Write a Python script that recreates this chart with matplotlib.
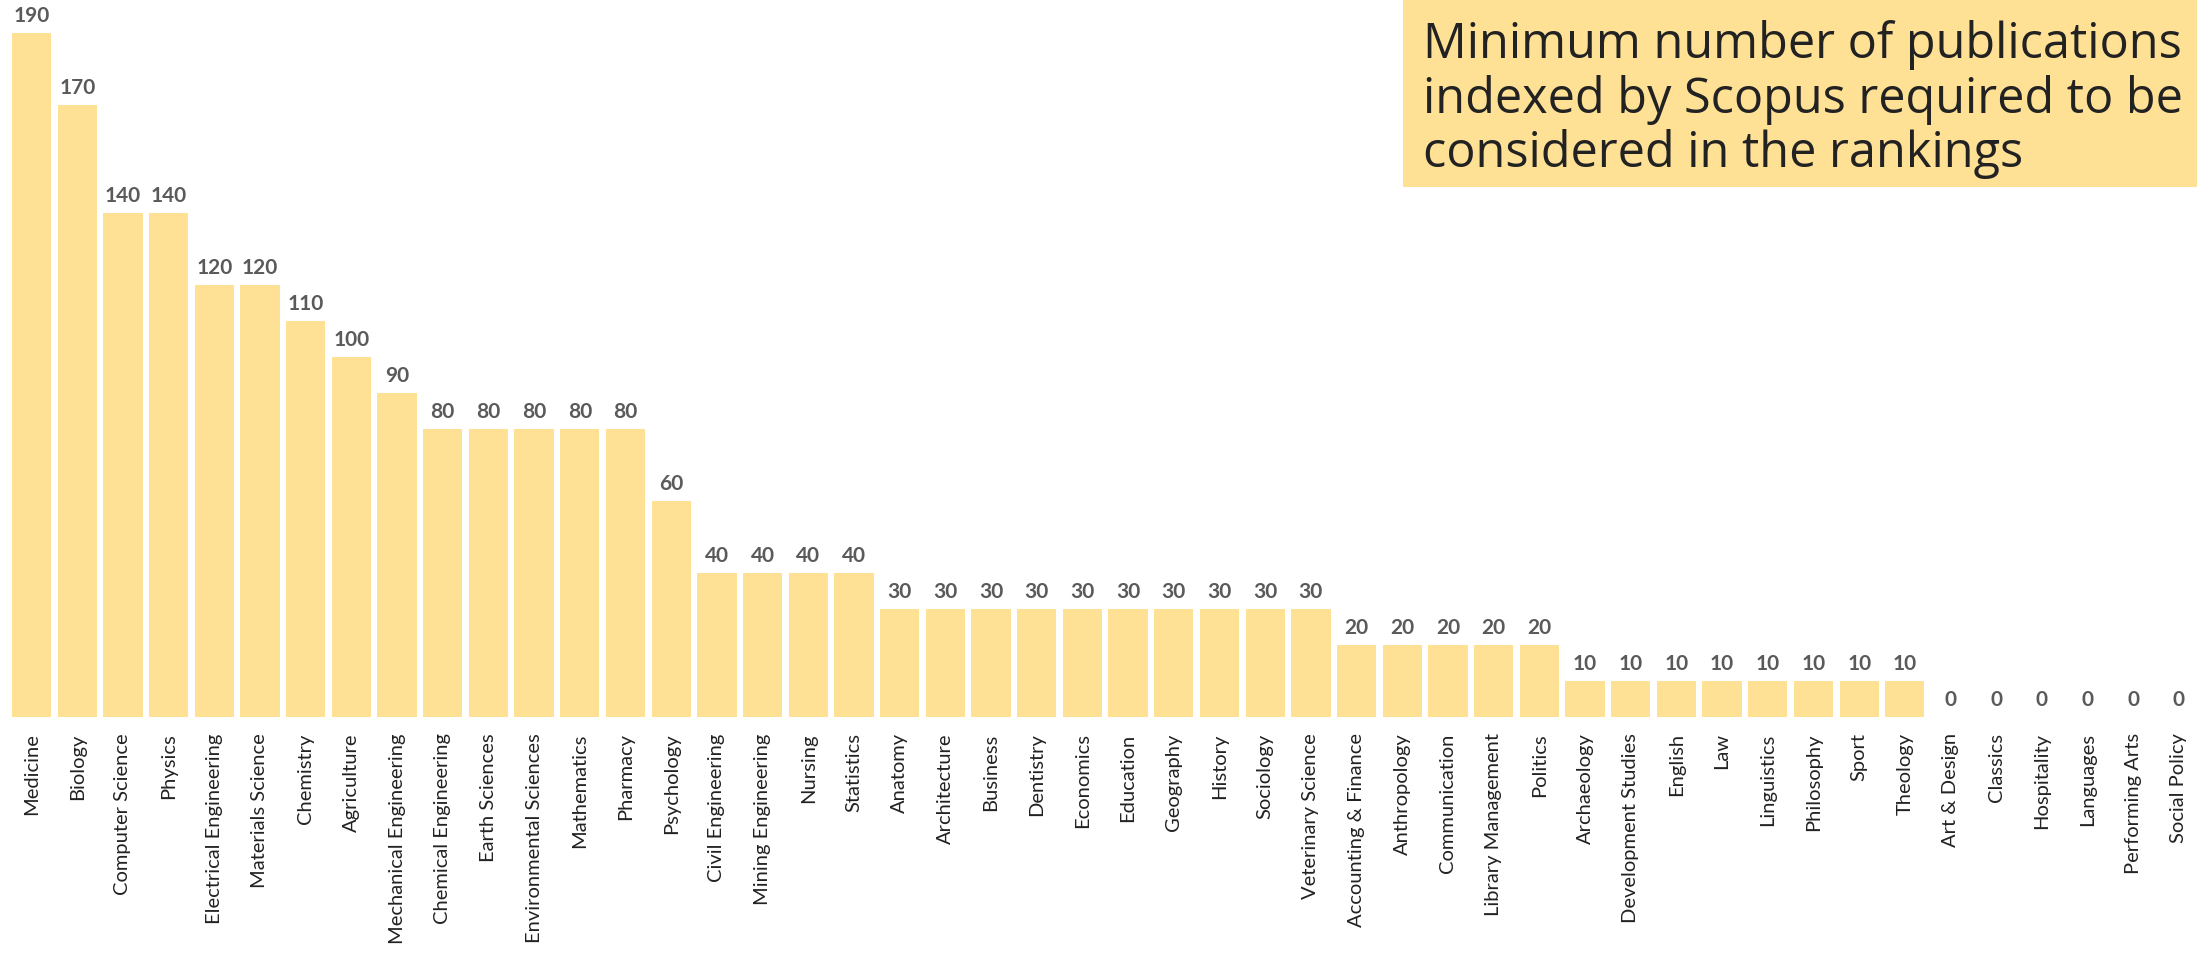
import matplotlib.pyplot as plt
from matplotlib.patches import Rectangle
from matplotlib.transforms import offset_copy

subjects = ["Medicine", "Biology", "Computer Science", "Physics", "Electrical Engineering",
            "Materials Science", "Chemistry", "Agriculture", "Mechanical Engineering",
            "Chemical Engineering", "Earth Sciences", "Environmental Sciences", "Mathematics",
            "Pharmacy", "Psychology", "Civil Engineering", "Mining Engineering", "Nursing",
            "Statistics", "Anatomy", "Architecture", "Business", "Dentistry", "Economics",
            "Education", "Geography", "History", "Sociology", "Veterinary Science",
            "Accounting & Finance", "Anthropology", "Communication", "Library Management",
            "Politics", "Archaeology", "Development Studies", "English", "Law", "Linguistics",
            "Philosophy", "Sport", "Theology", "Art & Design", "Classics", "Hospitality",
            "Languages", "Performing Arts", "Social Policy"]
min_pubs = [190, 170, 140, 140, 120, 120, 110, 100, 90, 80, 80, 80, 80, 80, 60,
            40, 40, 40, 40, 30, 30, 30, 30, 30, 30, 30, 30, 30, 30, 20, 20, 20, 20, 20,
            10, 10, 10, 10, 10, 10, 10, 10, 0, 0, 0, 0, 0, 0]
title = "Minimum number of publications\nindexed by Scopus required to be\nconsidered in the rankings"

bar_color = "#FFE196"

fig = plt.figure(figsize=(22, 9.54), dpi=100)
ax = fig.add_axes([0, 0.2474, 1, 0.717])

x = list(range(len(subjects)))
ax.bar(x, min_pubs, width=0.86, color=bar_color)

# value labels a few pixels above each bar
label_tr = offset_copy(ax.transData, fig=fig, x=0, y=8, units="dots")
for i, v in zip(x, min_pubs):
    ax.text(i, v, str(v), ha="center", va="bottom", fontsize=15, fontweight="bold",
            color="#5a5a5a", family="Lato", transform=label_tr)

ax.set_xlim(-0.69, len(subjects) - 1 + 0.46)
ax.set_ylim(0, 190)
ax.set_xticks(x)
ax.set_xticklabels(subjects, rotation=90, fontsize=14.5, family="Lato", color="#222222")
ax.tick_params(axis="x", length=0, pad=11)
ax.set_yticks([])
for s in ax.spines.values():
    s.set_visible(False)

fig.patches.append(Rectangle((0.6377, 0.803), 0.361, 0.197, transform=fig.transFigure,
                             facecolor=bar_color, edgecolor="none", zorder=0))
fig.text(0.647, 0.979, title, ha="left", va="top", fontsize=35, family="Open Sans",
         color="#222222", linespacing=1.12)

fig.savefig("out.png", dpi=100)
